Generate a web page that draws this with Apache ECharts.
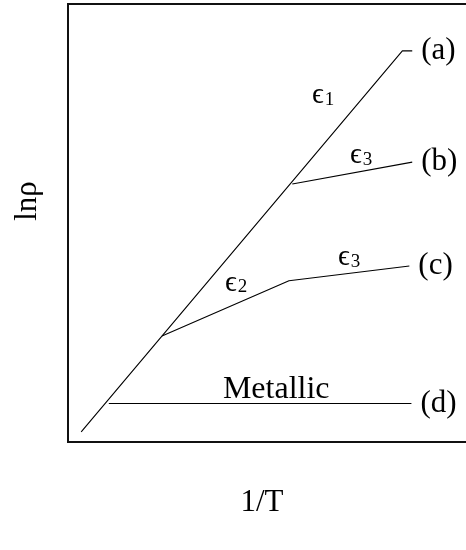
<!DOCTYPE html>
<html>
<head>
<meta charset="utf-8">
<script src="https://cdn.jsdelivr.net/npm/echarts@6/dist/echarts.min.js"></script>
<style>
  html, body { margin: 0; padding: 0; background: #fff; }
  #chart { width: 466px; height: 550px; }
</style>
</head>
<body>
<div id="chart"></div>
<script>
// Schematic ln(rho) vs 1/T regimes (arbitrary units)
const curveNames = ['(a)', '(b)', '(c)', '(d)'];
const curveA = [[3.2, 2.3], [81.1, 89.3], [83.5, 89.3]];
const curveB = [[54.4, 58.9], [83.5, 63.9]];
const curveC = [[22.8, 24.2], [53.6, 36.8], [82.8, 40.2]];
const curveD = [[9.9, 8.8], [83.3, 8.8]];

// Activation-energy annotations: [x, y, subscript]
const slopeNotes = [
  [61.9, 79.2, '1'],
  [71.1, 65.5, '3'],
  [68.2, 42.2, '3'],
  [40.8, 36.3, '2']
];
const regimeNote = [50.5, 12.0, 'Metallic'];

const xTitle = '1/T';
const yTitle = 'lnρ';

const serif = "'Liberation Serif', 'DejaVu Serif', serif";

const chart = echarts.init(document.getElementById('chart'), null, { renderer: 'canvas' });

function curve(data, name) {
  return {
    type: 'line',
    data: data,
    showSymbol: false,
    symbol: 'none',
    silent: true,
    animation: false,
    lineStyle: { color: '#000', width: 1.1 },
    endLabel: {
      show: true,
      formatter: name,
      distance: 9,
      color: '#000',
      fontFamily: serif,
      fontSize: 31
    }
  };
}

const option = {
  backgroundColor: '#fff',
  animation: false,
  grid: {
    show: true,
    left: 68,
    top: 4,
    width: 437,
    height: 438,
    outerBoundsMode: 'none',
    containLabel: false,
    borderColor: '#111',
    borderWidth: 2,
    backgroundColor: 'transparent'
  },
  xAxis: {
    type: 'value', min: 0, max: 106,
    axisLine: { show: false }, axisTick: { show: false },
    axisLabel: { show: false }, splitLine: { show: false }
  },
  yAxis: {
    type: 'value', min: 0, max: 100,
    axisLine: { show: false }, axisTick: { show: false },
    axisLabel: { show: false }, splitLine: { show: false }
  },
  series: [
    curve(curveA, curveNames[0]),
    curve(curveB, curveNames[1]),
    curve(curveC, curveNames[2]),
    curve(curveD, curveNames[3]),
    {
      type: 'scatter',
      silent: true,
      symbolSize: 0,
      itemStyle: { opacity: 1 },
      data: slopeNotes.map(n => ({ value: [n[0], n[1]], sub: n[2] })),
      label: {
        show: true,
        position: 'inside',
        formatter: p => '{e|ϵ}{s|' + p.data.sub + '}',
        rich: {
          e: { fontFamily: serif, fontSize: 29, color: '#000', verticalAlign: 'bottom' },
          s: { fontFamily: serif, fontSize: 19, color: '#000', padding: [9, 0, 0, 1] }
        }
      }
    },
    {
      type: 'scatter',
      silent: true,
      symbolSize: 0,
      itemStyle: { opacity: 1 },
      data: [{ value: [regimeNote[0], regimeNote[1]] }],
      label: {
        show: true,
        position: 'inside',
        formatter: regimeNote[2],
        fontFamily: serif,
        fontSize: 32,
        color: '#000',
        textBorderWidth: 0
      }
    }
  ],
  graphic: [
    {
      type: 'text',
      x: 262, y: 503,
      style: {
        text: xTitle,
        fontFamily: serif,
        fontSize: 31,
        fill: '#000',
        align: 'center',
        verticalAlign: 'middle'
      }
    },
    {
      type: 'text',
      x: 28, y: 201,
      rotation: Math.PI / 2,
      style: {
        text: yTitle,
        fontFamily: serif,
        fontSize: 31,
        fill: '#000',
        align: 'center',
        verticalAlign: 'middle'
      }
    }
  ]
};

chart.setOption(option);
</script>
</body>
</html>
